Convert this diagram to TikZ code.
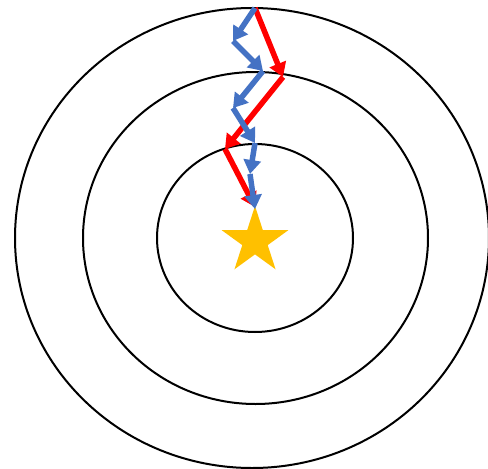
\documentclass[tikz,border=0pt]{standalone}
\usepackage{tikz}
\usetikzlibrary{arrows.meta,shapes.geometric}

\definecolor{pathred}{HTML}{FF0000}
\definecolor{pathblue}{HTML}{4472C4}
\definecolor{stargold}{HTML}{FFC000}

\begin{document}
\begin{tikzpicture}[x=1pt,y=-1pt,
 ring/.style={draw=black,line width=2pt},
 redstep/.style={draw=pathred,line width=5.5pt,-{Triangle[length=14pt,width=17pt]}},
 bluestep/.style={draw=pathblue,line width=5.5pt,-{Triangle[length=14pt,width=17pt]}},
 goal/.style={star,star points=5,star point ratio=2.618,fill=stargold,inner sep=0pt,minimum size=70pt}]
\useasboundingbox (0,0) rectangle (488,469);
% rings
\draw[ring] (252,238) ellipse [x radius=237,y radius=230];
\draw[ring] (255.5,238) ellipse [x radius=172.5,y radius=166];
\draw[ring] (255,238) ellipse [x radius=98,y radius=94];
% target
\node[goal] (target) at (255,241) {};
% way points
\coordinate (start) at (255,8);
\coordinate (r1) at (283,77);
\coordinate (r2) at (225,149);
\coordinate (r3) at (255,207);
\coordinate (b1) at (233,41);
\coordinate (b2) at (263,71);
\coordinate (b3) at (233,108);
\coordinate (b4) at (255,143);
\coordinate (b5) at (250,174);
\coordinate (b6) at (255,209);
% red path
\draw[redstep] (start) -- (r1);
\draw[redstep] (r1) -- (r2);
\draw[redstep] (r2) -- (r3);
% blue path
\draw[bluestep] (start) -- (b1);
\draw[bluestep] (b1) -- (b2);
\draw[bluestep] (b2) -- (b3);
\draw[bluestep] (b3) -- (b4);
\draw[bluestep] (b4) -- (b5);
\draw[bluestep] (b5) -- (b6);
\end{tikzpicture}
\end{document}
